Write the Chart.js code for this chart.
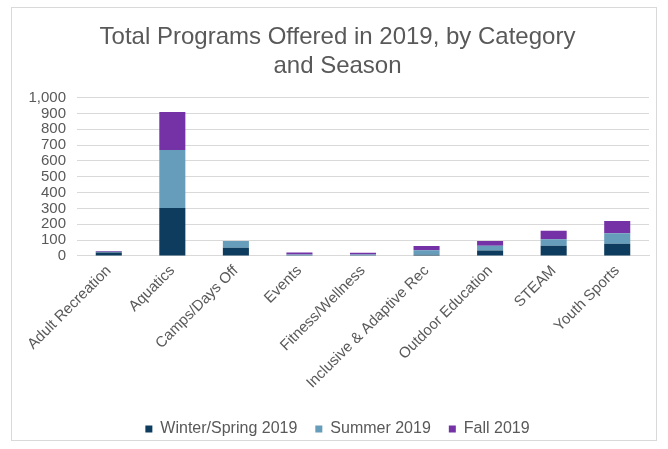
<!DOCTYPE html>
<html>
<head>
<meta charset="utf-8">
<script src="https://cdn.jsdelivr.net/npm/chart.js@4.4.1/dist/chart.umd.min.js"></script>
<style>
  html, body { margin: 0; padding: 0; background: #ffffff; }
  #wrap { position: relative; width: 668px; height: 449px; overflow: hidden; }
  #frame { position: absolute; left: 11px; top: 7px; width: 646px; height: 434px;
           border: 1px solid #d9d9d9; box-sizing: border-box; pointer-events: none; }
  canvas { position: absolute; left: 0; top: 0; }
</style>
</head>
<body>
<div id="wrap">
  <canvas id="c" width="668" height="449"></canvas>
  <div id="frame"></div>
</div>
<script>
// Program categories
const categories = [
  "Adult Recreation", "Aquatics", "Camps/Days Off", "Events", "Fitness/Wellness",
  "Inclusive & Adaptive Rec", "Outdoor Education", "STEAM", "Youth Sports"
];
// Programs offered per season
const winterSpring2019 = [22, 303, 52, 5, 4, 8, 35, 65, 78];
const summer2019       = [5, 366, 42, 5, 6, 28, 30, 40, 65];
const fall2019         = [5, 240, 0, 12, 10, 27, 30, 55, 78];
const seriesNames = ["Winter/Spring 2019", "Summer 2019", "Fall 2019"];
const yTicks = [0, 100, 200, 300, 400, 500, 600, 700, 800, 900, 1000];

const textColor = "#595959";
const fontFamily = "'Liberation Sans', Arial, sans-serif";

new Chart(document.getElementById("c"), {
  type: "bar",
  data: {
    labels: categories,
    datasets: [
      { label: seriesNames[0], data: winterSpring2019, backgroundColor: "#0e3c5e" },
      { label: seriesNames[1], data: summer2019, backgroundColor: "#659dba" },
      { label: seriesNames[2], data: fall2019, backgroundColor: "#7532a6" }
    ]
  },
  options: {
    responsive: false,
    animation: false,
    layout: { padding: { left: 26, right: 19, top: 0, bottom: 2 } },
    datasets: { bar: { barPercentage: 0.41, categoryPercentage: 1.0 } },
    scales: {
      x: {
        stacked: true,
        grid: { display: false, drawTicks: false },
        border: { display: true, color: "#d9d9d9" },
        ticks: {
          color: textColor, font: { family: fontFamily, size: 15 },
          maxRotation: 45, minRotation: 45, padding: 6, autoSkip: false
        },
        afterFit: (s) => { s.height = 147; }
      },
      y: {
        stacked: true,
        min: 0, max: 1000,
        afterBuildTicks: (s) => { s.ticks = yTicks.map(v => ({ value: v })); },
        grid: { color: "#d9d9d9", drawTicks: false },
        border: { display: false },
        ticks: {
          color: textColor, font: { family: fontFamily, size: 15 }, padding: 11,
          autoSkip: false,
          callback: (v) => v.toLocaleString("en-US")
        },
        afterFit: (s) => { s.width = 51; }
      }
    },
    plugins: {
      title: {
        display: true,
        text: ["Total Programs Offered in 2019, by Category", "and Season"],
        color: textColor,
        font: { family: fontFamily, size: 24, weight: "normal", lineHeight: 1.2 },
        padding: { top: 23, bottom: 17 }
      },
      legend: {
        position: "bottom",
        labels: {
          color: textColor, font: { family: fontFamily, size: 16 },
          boxWidth: 7, boxHeight: 7, padding: 18
        }
      },
      tooltip: { enabled: false }
    }
  }
});
</script>
</body>
</html>
